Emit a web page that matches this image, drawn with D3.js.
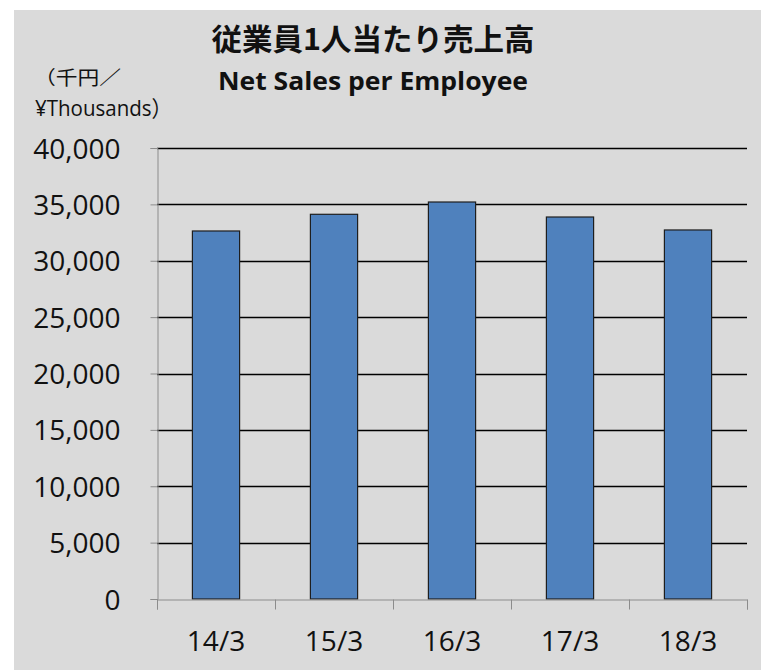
<!DOCTYPE html>
<html>
<head>
<meta charset="utf-8">
<script src="https://cdn.jsdelivr.net/npm/d3@7"></script>
<style>
  html, body { margin: 0; padding: 0; background: #ffffff; }
</style>
</head>
<body>
<div id="chart"></div>
<script>
// chart data
const categories = ["14/3", "15/3", "16/3", "17/3", "18/3"];
const salesPerEmployee = [32640, 34120, 35210, 33880, 32730];
const yTicks = [0, 5000, 10000, 15000, 20000, 25000, 30000, 35000, 40000];
const titleJa = "従業員1人当たり売上高";
const titleEn = "Net Sales per Employee";
const unitLines = ["（千円／", "¥Thousands）"];

const width = 761;
const height = 670;
const margin = {top: 148, right: 14, bottom: 71, left: 157};

const svg = d3.select("#chart")
  .append("svg")
  .attr("width", width)
  .attr("height", height)
  .attr("viewBox", `0 0 ${width} ${height}`);

// gray chart panel
svg.append("rect")
  .attr("x", 14)
  .attr("y", 10)
  .attr("width", width - 14)
  .attr("height", height - 10)
  .attr("fill", "#dadada");

const x = d3.scaleBand()
  .domain(categories)
  .range([margin.left, width - margin.right])
  .paddingInner(0.6)
  .paddingOuter(0.3);

const y = d3.scaleLinear()
  .domain([0, 40000])
  .range([height - margin.bottom, margin.top]);

// horizontal grid lines
svg.append("g")
  .selectAll("line")
  .data(yTicks.filter(d => d > 0))
  .enter()
  .append("line")
  .attr("x1", margin.left)
  .attr("x2", width - margin.right)
  .attr("y1", d => Math.round(y(d)) + 0.5)
  .attr("y2", d => Math.round(y(d)) + 0.5)
  .attr("stroke", "#000")
  .attr("stroke-width", 1.4);

// y axis
const yAxis = svg.append("g")
  .attr("transform", `translate(${margin.left + 0.5},0)`)
  .call(d3.axisLeft(y)
    .tickValues(yTicks)
    .tickSize(7)
    .tickPadding(30)
    .tickFormat(d3.format(",")));
yAxis.select(".domain").attr("stroke", "#8c8c8c");
yAxis.selectAll(".tick line").attr("stroke", "#8c8c8c");
yAxis.selectAll("text")
  .attr("dy", "0.36em")
  .attr("fill", "#111")
  .style("font-family", "'Open Sans', 'Noto Sans', sans-serif")
  .style("font-size", "28px");

// bars
svg.append("g")
  .selectAll("rect")
  .data(categories.map((c, i) => ({label: c, value: salesPerEmployee[i]})))
  .enter()
  .append("rect")
  .attr("x", d => x(d.label))
  .attr("y", d => y(d.value))
  .attr("width", x.bandwidth())
  .attr("height", d => y(0) - y(d.value))
  .attr("fill", "#4f81bd")
  .attr("stroke", "#1e1e1e")
  .attr("stroke-width", 1.2);

// x axis line with ticks at category boundaries
const xEdges = d3.scaleLinear()
  .domain([0, categories.length])
  .range([margin.left, width - margin.right]);

const xAxisLine = svg.append("g")
  .attr("transform", `translate(0,${Math.round(y(0)) + 0.5})`)
  .call(d3.axisBottom(xEdges)
    .tickValues(d3.range(categories.length + 1))
    .tickSize(10)
    .tickSizeOuter(10)
    .tickFormat(""));
xAxisLine.select(".domain").attr("stroke", "#8c8c8c");
xAxisLine.selectAll(".tick line").attr("stroke", "#8c8c8c");

// x axis labels
const xAxis = svg.append("g")
  .attr("transform", `translate(0,${y(0)})`)
  .call(d3.axisBottom(x).tickSize(0).tickPadding(32));
xAxis.select(".domain").remove();
xAxis.selectAll("text")
  .attr("fill", "#111")
  .style("font-family", "'Open Sans', 'Noto Sans', sans-serif")
  .style("font-size", "28px");

// titles
svg.append("text")
  .attr("x", 373)
  .attr("y", 50)
  .attr("text-anchor", "middle")
  .attr("textLength", 323)
  .attr("lengthAdjust", "spacingAndGlyphs")
  .attr("fill", "#111")
  .style("font-family", "'Noto Sans CJK JP', sans-serif")
  .style("font-weight", "700")
  .style("font-size", "30px")
  .text(titleJa);

svg.append("text")
  .attr("x", 373)
  .attr("y", 90)
  .attr("text-anchor", "middle")
  .attr("textLength", 310)
  .attr("lengthAdjust", "spacingAndGlyphs")
  .attr("fill", "#111")
  .style("font-family", "'Open Sans', 'Noto Sans', sans-serif")
  .style("font-weight", "700")
  .style("font-size", "25px")
  .text(titleEn);

// unit label
svg.append("text")
  .attr("x", 34)
  .attr("y", 85)
  .attr("textLength", 87)
  .attr("lengthAdjust", "spacingAndGlyphs")
  .attr("fill", "#111")
  .style("font-family", "'Noto Sans CJK JP', sans-serif")
  .style("font-size", "19px")
  .text(unitLines[0]);

svg.append("text")
  .attr("x", 35)
  .attr("y", 116)
  .attr("textLength", 137)
  .attr("lengthAdjust", "spacingAndGlyphs")
  .attr("fill", "#111")
  .style("font-family", "'Open Sans', 'Noto Sans CJK JP', sans-serif")
  .style("font-size", "22px")
  .text(unitLines[1]);
</script>
</body>
</html>
